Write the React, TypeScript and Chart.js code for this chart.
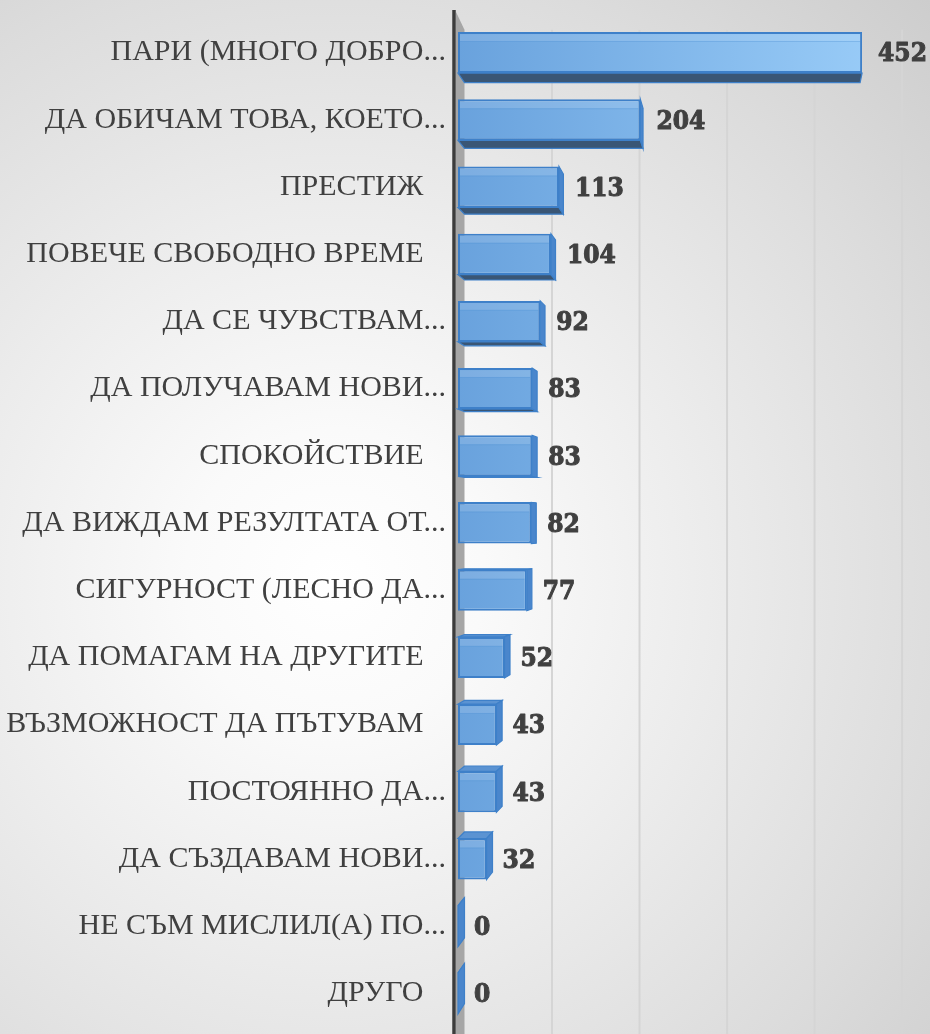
import React, { useEffect, useRef } from "react";
import { Chart, registerables } from "chart.js";

Chart.register(...registerables);

const categories: string[] = [
  "ПАРИ (МНОГО ДОБРО...",
  "ДА ОБИЧАМ ТОВА, КОЕТО...",
  "ПРЕСТИЖ   ",
  "ПОВЕЧЕ СВОБОДНО ВРЕМЕ   ",
  "ДА СЕ ЧУВСТВАМ...",
  "ДА ПОЛУЧАВАМ НОВИ...",
  "СПОКОЙСТВИЕ   ",
  "ДА ВИЖДАМ РЕЗУЛТАТА ОТ...",
  "СИГУРНОСТ (ЛЕСНО ДА...",
  "ДА ПОМАГАМ НА ДРУГИТЕ   ",
  "ВЪЗМОЖНОСТ ДА ПЪТУВАМ   ",
  "ПОСТОЯННО ДА...",
  "ДА СЪЗДАВАМ НОВИ...",
  "НЕ СЪМ МИСЛИЛ(А) ПО...",
  "ДРУГО   ",
];

const values: number[] = [452, 204, 113, 104, 92, 83, 83, 82, 77, 52, 43, 43, 32, 0, 0];

const gridValues: number[] = [100, 200, 300, 400, 500];
const axisMax = 500;

const VP = { x: 767, y: 527 };
const K = 0.021;
const back = (x: number, y: number): [number, number] => [x + (VP.x - x) * K, y + (VP.y - y) * K];

const depthPlugin = {
  id: "depth3d",
  beforeDatasetsDraw(chart: any) {
    const ctx = chart.ctx;
    const area = chart.chartArea;
    const xs = chart.scales.x;
    const H = chart.height;
    ctx.save();
    ctx.strokeStyle = "#d5d5d5";
    ctx.lineWidth = 2;
    gridValues.forEach((v) => {
      const x = xs.getPixelForValue(v);
      const [bx, by] = back(x, area.top);
      ctx.beginPath();
      ctx.moveTo(bx, by);
      ctx.lineTo(bx, H);
      ctx.stroke();
    });
    const zx = xs.getPixelForValue(0);
    const [bx0, byTop] = back(zx, area.top);
    ctx.fillStyle = "#a6a6a6";
    ctx.beginPath();
    ctx.moveTo(zx - 2, area.top - 7);
    ctx.lineTo(bx0, byTop);
    ctx.lineTo(bx0, H);
    ctx.lineTo(zx - 2, H);
    ctx.closePath();
    ctx.fill();
    ctx.strokeStyle = "#3c3c3c";
    ctx.lineWidth = 3.5;
    ctx.beginPath();
    ctx.moveTo(zx - 4, area.top - 9);
    ctx.lineTo(zx - 4, H);
    ctx.stroke();

    const meta = chart.getDatasetMeta(0);
    meta.data.forEach((el: any) => {
      const p = el.getProps(["x", "y", "base", "height"], true);
      const x0 = p.base, x1 = p.x;
      const yt = p.y - p.height / 2, yb = p.y + p.height / 2;
      const [bx0t, byt] = back(x0, yt);
      const [bx1t] = back(x1, yt);
      const [bx0b, byb] = back(x0, yb);
      const [bx1b] = back(x1, yb);
      ctx.lineWidth = 1.2;
      ctx.strokeStyle = "#3e80c9";
      if (byb > yb) {
        ctx.fillStyle = "#3a5675";
        ctx.beginPath();
        ctx.moveTo(x0, yb);
        ctx.lineTo(x1, yb);
        ctx.lineTo(bx1b, byb);
        ctx.lineTo(bx0b, byb);
        ctx.closePath();
        ctx.fill();
        ctx.stroke();
      } else {
        ctx.fillStyle = "#5b93d2";
        ctx.beginPath();
        ctx.moveTo(x0, yt);
        ctx.lineTo(x1, yt);
        ctx.lineTo(bx1t, byt);
        ctx.lineTo(bx0t, byt);
        ctx.closePath();
        ctx.fill();
        ctx.stroke();
      }
      if (bx1t > x1) {
        ctx.fillStyle = "#4a86cc";
        ctx.beginPath();
        ctx.moveTo(x1, yt);
        ctx.lineTo(x1, yb);
        ctx.lineTo(bx1b, byb);
        ctx.lineTo(bx1t, byt);
        ctx.closePath();
        ctx.fill();
        ctx.stroke();
      }
    });
    ctx.restore();
  },
  afterDatasetsDraw(chart: any) {
    const ctx = chart.ctx;
    const meta = chart.getDatasetMeta(0);
    ctx.save();
    meta.data.forEach((el: any, i: number) => {
      const p = el.getProps(["x", "y", "base", "height"], true);
      const x0 = p.base, x1 = p.x;
      const yt = p.y - p.height / 2;
      if (x1 - x0 > 6) {
        ctx.fillStyle = "rgba(255,255,255,0.13)";
        ctx.fillRect(x0 + 2, yt + 2, x1 - x0 - 4, p.height * 0.18);
        ctx.strokeStyle = "rgba(70,140,210,0.35)";
        ctx.lineWidth = 1;
        ctx.beginPath();
        ctx.moveTo(x0 + 2, yt + 2 + p.height * 0.18);
        ctx.lineTo(x1 - 2, yt + 2 + p.height * 0.18);
        ctx.stroke();
      }
      ctx.fillStyle = "#404040";
      ctx.strokeStyle = "#404040";
      ctx.lineWidth = 1;
      ctx.lineJoin = "round";
      ctx.font = 'bold 26px "DejaVu Serif Condensed", "DejaVu Serif", serif';
      ctx.textAlign = "left";
      ctx.textBaseline = "middle";
      ctx.fillText(String(values[i]), x1 + 16, p.y + 2);
      ctx.strokeText(String(values[i]), x1 + 16, p.y + 2);
    });
    ctx.restore();
  },
};

export default function App() {
  const ref = useRef<HTMLCanvasElement | null>(null);
  useEffect(() => {
    if (!ref.current) return;
    const chart = new Chart(ref.current, {
      type: "bar",
      data: {
        labels: categories,
        datasets: [
          {
            data: values,
            backgroundColor: (c: any) => {
              const ch = c.chart;
              const a = ch.chartArea;
              if (!a) return "#7fb5ea";
              const g = ch.ctx.createLinearGradient(a.left, 0, a.left + (a.right - a.left) * 0.92, 0);
              g.addColorStop(0, "#69a2dd");
              g.addColorStop(1, "#98cbf7");
              return g;
            },
            borderColor: "#3e80c9",
            borderWidth: 2,
            borderSkipped: false,
            barPercentage: 0.61,
            categoryPercentage: 1,
          },
        ],
      },
      options: {
        indexAxis: "y",
        responsive: false,
        animation: false,
        layout: { padding: { top: 19, right: 25, bottom: 7, left: 0 } },
        plugins: { legend: { display: false }, tooltip: { enabled: false } },
        scales: {
          x: { display: false, min: 0, max: axisMax },
          y: {
            grid: { display: false },
            border: { display: false },
            ticks: {
              autoSkip: false,
              padding: 4,
              color: "#404040",
              font: { family: '"Liberation Serif", serif', size: 30 },
            },
            afterFit: (s: any) => {
              s.width = 458;
              s.paddingTop = 0;
              s.paddingBottom = 0;
            },
          },
        },
      } as any,
      plugins: [depthPlugin],
    });
    return () => chart.destroy();
  }, []);
  return (
    <div
      style={{
        position: "absolute",
        left: 0,
        top: 0,
        width: 930,
        height: 1034,
        background:
          "radial-gradient(circle at 36% 56%, #ffffff 0%, #fafafa 18%, #ececec 45%, #dcdcdc 75%, #cdcdcd 100%)",
      }}
    >
      <canvas ref={ref} width={930} height={1034} style={{ display: "block" }} />
    </div>
  );
}
